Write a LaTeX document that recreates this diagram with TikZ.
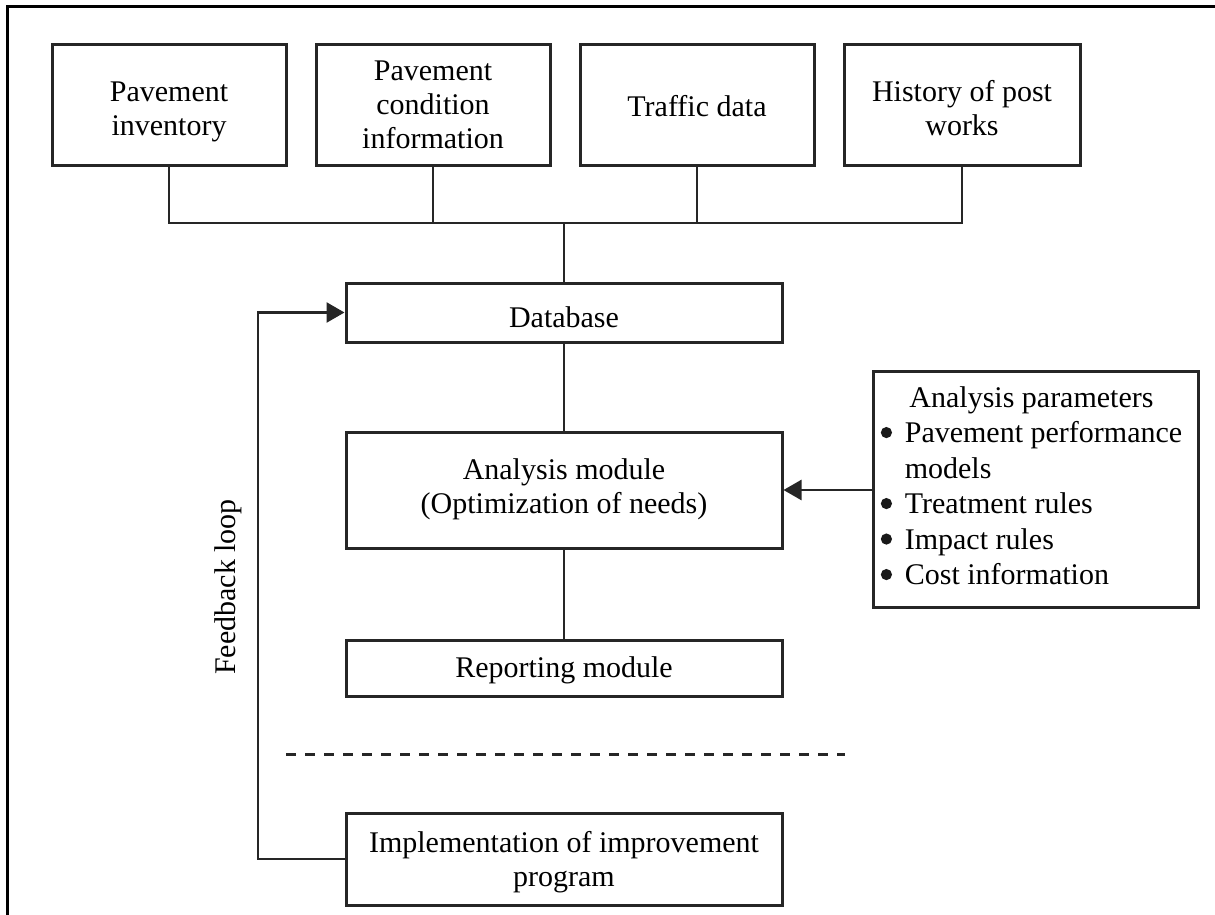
\documentclass[tikz,border=0pt]{standalone}
\usepackage{fontspec}
\setmainfont{Liberation Serif}
\usetikzlibrary{arrows.meta}
\newcommand{\bul}{\makebox[24pt][l]{\tikz[baseline=0pt]\fill[black!90] (5pt,10pt) circle (5.6pt);}}
\newcommand{\tl}[2]{\raisebox{-#1}[\height][\depth]{\begin{tabular}{@{}c@{}}#2\end{tabular}}}
\begin{document}
\begin{tikzpicture}[x=1pt,y=-1pt,
  box/.style={draw=black!85,line width=3pt,minimum width=234pt,minimum height=120pt,
    inner sep=0pt,align=center,font=\fontsize{30}{34}\selectfont},
  wide/.style={box,minimum width=436pt},
  conn/.style={draw=black!85,line width=2.6pt},
  tip/.style={-{Triangle[length=18pt,width=20pt]}}
]
\useasboundingbox (0,0) rectangle (1215,915);
\draw[line width=3pt] (7,915) -- (7,7) -- (1215,7);

\node[box] (b1) at (169,105) {\tl{7pt}{Pavement\\inventory}};
\node[box] (b2) at (433,105) {\tl{3pt}{Pavement\\condition\\information}};
\node[box] (b3) at (697,105) {\tl{5pt}{Traffic data}};
\node[box,minimum width=236pt] (b4) at (962,105) {\tl{7pt}{History of post\\works}};

\node[wide,minimum height=59pt] (db) at (564,312.5) {\tl{8pt}{Database}};
\node[wide,minimum height=116pt] (am) at (564,490) {\tl{0pt}{Analysis module\\(Optimization of needs)}};
\node[wide,minimum height=56pt] (rm) at (564,668) {\tl{3pt}{Reporting module}};
\node[wide,minimum height=92pt] (imp) at (564,859) {\tl{4pt}{Implementation of improvement\\program}};

\node[box,minimum width=325pt,minimum height=236pt] (ap) at (1035.5,489) {%
  \begin{tabular}{@{}l@{}}
  \multicolumn{1}{@{}c@{}}{Analysis parameters}\\[1.5pt]
  \bul Pavement performance\\[1.5pt]
  \hphantom{\bul}models\\[1.5pt]
  \bul Treatment rules\\[1.5pt]
  \bul Impact rules\\[1.5pt]
  \bul Cost information
  \end{tabular}\hspace*{8pt}};

\coordinate (bus) at (0,223);
\coordinate (fb) at (258,0);
\coordinate (dL) at (286,754);
\coordinate (dR) at (845,754);

\draw[conn] (b1.south) -- (b1.south |- bus) -- (b4.south |- bus) -- (b4.south);
\draw[conn] (b2.south) -- (b2.south |- bus);
\draw[conn] (b3.south) -- (b3.south |- bus);
\draw[conn] (db.north |- bus) -- (db.north);
\draw[conn] (db.south) -- (am.north);
\draw[conn] (am.south) -- (rm.north);
\draw[conn,tip] (ap.west |- am.east) -- (am.east);
\draw[conn,tip] (imp.west) -- (imp.west -| fb) -- (db.west -| fb) -- (db.west);
\draw[draw=black!85,line width=3pt,dash pattern=on 10pt off 9pt] (dL) -- (dR);

\node[rotate=90,font=\fontsize{30}{34}\selectfont] (fl) at (228,587) {Feedback loop};
\end{tikzpicture}
\end{document}
